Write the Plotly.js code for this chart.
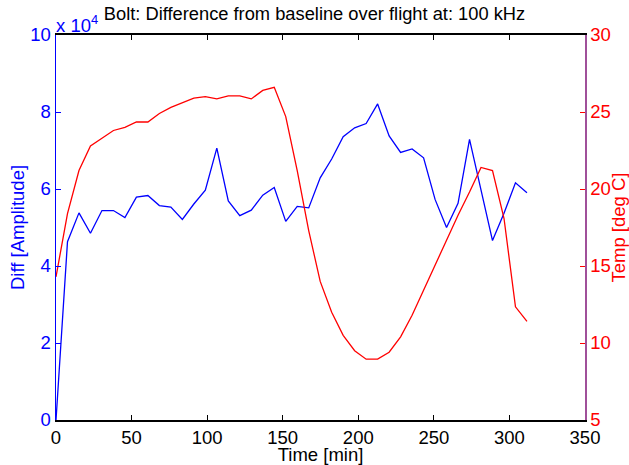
<!DOCTYPE html>
<html>
<head>
<meta charset="utf-8">
<script src="https://cdn.plot.ly/plotly-3.0.1.min.js"></script>
<style>html,body{margin:0;padding:0;background:#fff;}#chart{width:629px;height:465px;}</style>
</head>
<body>
<div id="chart"></div>
<script>
// Time [min]
var timeMin = [0, 7.6, 15.2, 22.8, 30.4, 38, 45.6, 53.2, 60.8, 68.4, 76, 83.6, 91.2, 98.8, 106.4, 114, 121.6, 129.2, 136.8, 144.4,
  152, 159.6, 167.2, 174.8, 182.4, 190, 197.6, 205.2, 212.8, 220.4, 228, 235.6, 243.2, 250.8, 258.4, 266, 273.6, 281.2, 288.8, 296.4, 304, 311.6];
// Diff [Amplitude]
var diffAmp = [0, 46300, 53800, 48500, 54400, 54400, 52600, 57900, 58300, 55700, 55300, 52100, 56100, 59700, 70600, 56900, 53100, 54500, 58400, 60400,
  51600, 55500, 55100, 62900, 67800, 73600, 75900, 77000, 82100, 73800, 69500, 70400, 68100, 57300, 50000, 56300, 72900, 60000, 46600, 53700, 61600, 59000];
// Temp [deg C]
var tempC = [14.3, 18.4, 21.2, 22.8, 23.3, 23.8, 24.0, 24.35, 24.35, 24.9, 25.3, 25.6, 25.9, 26.0, 25.85, 26.05, 26.05, 25.85, 26.4, 26.6,
  24.7, 21.2, 17.3, 14.0, 12.0, 10.5, 9.5, 8.95, 8.95, 9.4, 10.4, 11.8, 13.45, 15.05, 16.7, 18.3, 19.8, 21.4, 21.2, 18.1, 12.35, 11.4];

var xTicks = [0, 50, 100, 150, 200, 250, 300, 350];
var diffTickVals = [0, 20000, 40000, 60000, 80000, 100000];
var diffTickText = ['0', '2', '4', '6', '8', '10'];
var tempTicks = [5, 10, 15, 20, 25, 30];

var FONT = 'Liberation Sans, Arial, Helvetica, sans-serif';
var FS = 18.5;

var traces = [
  {x: timeMin, y: diffAmp, type: 'scatter', mode: 'lines', line: {color: '#0000ff', width: 1.3}, yaxis: 'y', hoverinfo: 'x+y'},
  {x: timeMin, y: tempC, type: 'scatter', mode: 'lines', line: {color: '#ff0000', width: 1.3}, yaxis: 'y2', hoverinfo: 'x+y'}
];

var layout = {
  width: 629, height: 465,
  margin: {l: 56, r: 44, t: 35, b: 45, pad: 0},
  paper_bgcolor: '#ffffff', plot_bgcolor: '#ffffff',
  showlegend: false,
  font: {family: FONT, size: FS, color: '#000'},
  title: {text: 'Bolt: Difference from baseline over flight at: 100 kHz', font: {family: FONT, size: 18.3, color: '#000'},
          x: 0.5, xanchor: 'center', y: 1 - 14 / 465, yanchor: 'middle', yref: 'container'},
  xaxis: {range: [0, 350], tickvals: xTicks, ticks: 'inside', ticklen: 5, tickcolor: '#000', tickwidth: 1,
          showline: true, linecolor: '#000', linewidth: 2, mirror: 'ticks', showgrid: false, zeroline: false,
          tickfont: {family: FONT, size: FS, color: '#000'},
          title: {text: 'Time [min]', font: {family: FONT, size: FS, color: '#000'}, standoff: 3}},
  yaxis: {range: [0, 100000], tickvals: diffTickVals, ticktext: diffTickText, ticks: 'inside', ticklen: 5, tickcolor: '#0000ff',
          showline: true, linecolor: '#0000ff', linewidth: 1.5, showgrid: false, zeroline: false,
          tickfont: {family: FONT, size: FS, color: '#0000ff'},
          title: {text: 'Diff [Amplitude]', font: {family: FONT, size: FS, color: '#0000ff'}, standoff: 0}},
  yaxis2: {range: [5, 30], tickvals: tempTicks, overlaying: 'y', side: 'right', ticks: 'inside', ticklen: 5, tickcolor: '#ff0000',
          showline: true, linecolor: '#a0509a', linewidth: 1.5, showgrid: false, zeroline: false,
          tickfont: {family: FONT, size: FS, color: '#ff0000'},
          title: {text: 'Temp [deg C]', font: {family: FONT, size: FS, color: '#ff0000'}, standoff: 4}},
  annotations: [
    {text: 'x 10<sup>4</sup>', xref: 'paper', yref: 'paper', x: 0, y: 1, xanchor: 'left', yanchor: 'bottom', showarrow: false,
     font: {family: FONT, size: FS, color: '#0000ff'}, xshift: -2, yshift: -3}
  ]
};

Plotly.newPlot('chart', traces, layout, {displayModeBar: false, staticPlot: true});
</script>
</body>
</html>
